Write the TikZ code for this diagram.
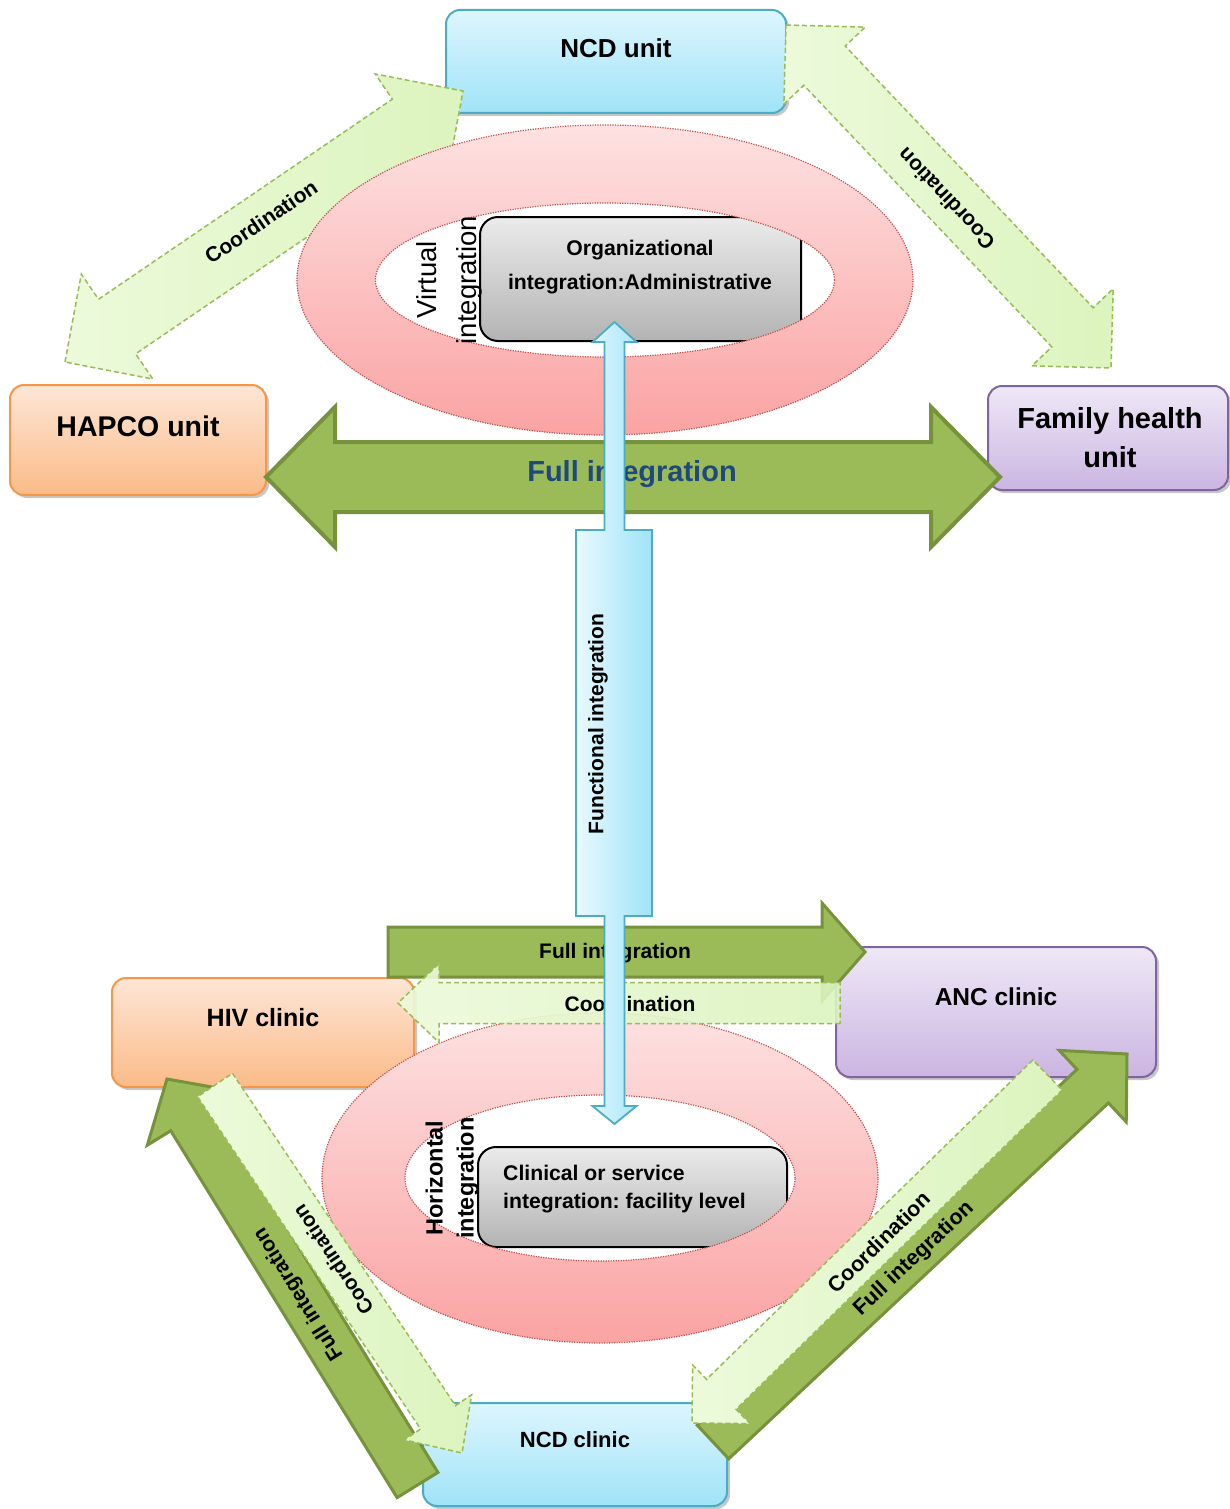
\documentclass[tikz,border=0pt]{standalone}
\usepackage{fontspec}
\setmainfont{Liberation Sans}
\usetikzlibrary{calc,shadows}
\frenchspacing

\definecolor{bBorder}{HTML}{4BACC6}
\definecolor{bTop}{HTML}{DDF6FD}
\definecolor{bBot}{HTML}{A0E3F8}
\definecolor{oBorder}{HTML}{F79646}
\definecolor{oTop}{HTML}{FDE6D6}
\definecolor{oBot}{HTML}{FBBB88}
\definecolor{pBorder}{HTML}{8064A2}
\definecolor{pTop}{HTML}{EEE8F6}
\definecolor{pBot}{HTML}{CBB5E2}
\definecolor{gTop}{HTML}{EBEBEB}
\definecolor{gBot}{HTML}{B3B3B3}
\definecolor{rTop}{HTML}{FDE1E1}
\definecolor{rBot}{HTML}{FBA3A3}
\definecolor{rBorder}{HTML}{C0504D}
\definecolor{fGreen}{HTML}{9BBB59}
\definecolor{fBorder}{HTML}{76923C}
\definecolor{cLight}{HTML}{DCF4BE}
\definecolor{cLight2}{HTML}{ECFADA}
\definecolor{navyText}{HTML}{1F497D}
\definecolor{faTop}{HTML}{E9F9FE}
\definecolor{faBot}{HTML}{9FE3F8}

\newcommand{\drawDblArrow}[6]{%
  \coordinate (tmpA) at ($(#2)!#6!(#3)$);
  \coordinate (tmpB) at ($(#3)!#6!(#2)$);
  \path[#1] (#2) -- ($(tmpA)!#5!90:(#3)$) -- ($(tmpA)!#4!90:(#3)$)
    -- ($(tmpB)!#4!-90:(#2)$) -- ($(tmpB)!#5!-90:(#2)$) -- (#3)
    -- ($(tmpB)!#5!90:(#2)$) -- ($(tmpB)!#4!90:(#2)$)
    -- ($(tmpA)!#4!-90:(#3)$) -- ($(tmpA)!#5!-90:(#3)$) -- cycle;
}
\newcommand{\drawSglArrow}[6]{%
  \coordinate (tmpB) at ($(#3)!#6!(#2)$);
  \path[#1] ($(#2)!#4!90:(#3)$) -- ($(tmpB)!#4!-90:(#2)$) -- ($(tmpB)!#5!-90:(#2)$)
    -- (#3) -- ($(tmpB)!#5!90:(#2)$) -- ($(tmpB)!#4!90:(#2)$)
    -- ($(#2)!#4!-90:(#3)$) -- cycle;
}

\tikzset{
  boxshadow/.style={drop shadow={shadow xshift=3pt, shadow yshift=-3pt, opacity=0.22, fill=black}},
  bluebox/.style={draw=bBorder, line width=2pt, rounded corners=14pt, top color=bTop, bottom color=bBot, inner sep=0pt, boxshadow},
  orangebox/.style={draw=oBorder, line width=2pt, rounded corners=14pt, top color=oTop, bottom color=oBot, inner sep=0pt, boxshadow},
  purplebox/.style={draw=pBorder, line width=2pt, rounded corners=14pt, top color=pTop, bottom color=pBot, inner sep=0pt, boxshadow},
  graybox/.style={draw=black, line width=2pt, rounded corners=18pt, top color=gTop, bottom color=gBot, inner sep=0pt},
  coordarrow/.style={draw=fGreen, line width=1.5pt, dash pattern=on 5pt off 3pt, left color=cLight2, right color=cLight},
  fullarrow/.style={draw=fBorder, line width=4pt, fill=fGreen},
  fullarrowthin/.style={draw=fBorder, line width=3pt, fill=fGreen},
  funcarrow/.style={draw=bBorder, line width=1.8pt, left color=faTop, right color=faBot},
  ringborder/.style={draw=rBorder, line width=1.2pt, dash pattern=on 1.2pt off 1.3pt},
  lbl/.style={inner sep=0pt, font=\bfseries},
}

\begin{document}
\begin{tikzpicture}[x=1pt,y=-1pt]
\useasboundingbox (0,0) rectangle (1230,1509);
\fill[white] (0,0) rectangle (1230,1509);

% ---------------- top level units ----------------
\node[bluebox, minimum width=340pt, minimum height=103pt] (ncdunit) at (616,61.5) {};
\node[orangebox, minimum width=256pt, minimum height=110pt] (hapco) at (138,440) {};
\node[purplebox, minimum width=240pt, minimum height=104pt] (family) at (1108,438) {};
\node[lbl, font=\fontsize{26}{30}\selectfont\bfseries] (ncdunitT) at (616,48) {NCD unit};
\node[lbl, font=\fontsize{28.5}{32}\selectfont\bfseries] (hapcoT) at (138,426) {HAPCO unit};
\node[lbl, align=center, font=\fontsize{29}{39}\selectfont\bfseries] (familyT) at (1110,438) {Family health\\unit};

% coordination arrows (top)
\coordinate (hapcoTip) at (65,362);
\coordinate (ncdTipL) at (463,91);
\drawDblArrow{coordarrow}{hapcoTip}{ncdTipL}{33pt}{63.5pt}{63pt}
\coordinate (ncdTipR) at (786,25);
\coordinate (famTip) at (1111,368);
\drawDblArrow{coordarrow}{ncdTipR}{famTip}{28.5pt}{56pt}{56pt}
\node[lbl, rotate=34.25, font=\fontsize{21}{24}\selectfont\bfseries] (coordTL) at (261,222) {Coordination};
\node[lbl, rotate=133.46, font=\fontsize{21}{24}\selectfont\bfseries] (coordTR) at (946,199) {Coordination};

% organizational box and ring
\node[graybox, minimum width=321pt, minimum height=124pt] (orgbox) at (640.5,279) {};
\shade[even odd rule, top color=rTop, bottom color=rBot]
  (605,280) ellipse [x radius=308pt, y radius=155pt]
  (605,280) ellipse [x radius=229.5pt, y radius=77pt];
\path[ringborder] (605,280) ellipse [x radius=308pt, y radius=155pt];
\path[ringborder] (605,280) ellipse [x radius=229.5pt, y radius=77pt];
\node[lbl, align=center, font=\fontsize{21.2}{34}\selectfont\bfseries] (orgT) at (640,267) {Organizational\\integration:Administrative};
\node[inner sep=0pt, rotate=90, align=center, font=\fontsize{27.5}{40}\selectfont] (virtT) at (449,280) {Virtual\\integration};

% full integration (top)
\coordinate (fiL) at (266,477);
\coordinate (fiR) at (1000,477);
\drawDblArrow{fullarrow}{fiL}{fiR}{35pt}{70pt}{69pt}
\node[lbl, text=navyText, font=\fontsize{29}{32}\selectfont\bfseries] (fiT) at (632,474) {Full integration};

% ---------------- facility level ----------------
\node[orangebox, minimum width=302pt, minimum height=109pt] (hiv) at (263,1032.5) {};
\node[purplebox, minimum width=320pt, minimum height=130pt] (anc) at (996,1012) {};
\node[bluebox, minimum width=304pt, minimum height=103pt] (ncdclinic) at (575,1454.5) {};
\node[lbl, font=\fontsize{25}{28}\selectfont\bfseries] (hivT) at (263,1018) {HIV clinic};
\node[lbl, font=\fontsize{24.5}{28}\selectfont\bfseries] (ancT) at (996,997) {ANC clinic};
\node[lbl, font=\fontsize{22}{26}\selectfont\bfseries] (ncdclinicT) at (575,1440) {NCD clinic};

% clinical box and ring
\node[graybox, minimum width=309pt, minimum height=100pt] (clinbox) at (632.5,1197) {};
\shade[even odd rule, top color=rTop, bottom color=rBot]
  (600,1178) ellipse [x radius=278pt, y radius=165pt]
  (600,1178) ellipse [x radius=195pt, y radius=83pt];
\path[ringborder] (600,1178) ellipse [x radius=278pt, y radius=165pt];
\path[ringborder] (600,1178) ellipse [x radius=195pt, y radius=83pt];
\node[lbl, anchor=west, align=left, font=\fontsize{21.2}{28}\selectfont\bfseries] (clinT) at (503,1189) {Clinical or service\\integration: facility level};
\node[lbl, rotate=90, align=center, font=\fontsize{23.5}{31}\selectfont\bfseries] (horT) at (452,1178) {Horizontal\\integration};

% horizontal arrows between HIV and ANC clinics
\coordinate (bfiTail) at (388,952);
\coordinate (bfiTip) at (865,952);
\drawSglArrow{fullarrowthin}{bfiTail}{bfiTip}{25pt}{49pt}{43pt}
\node[lbl, font=\fontsize{21}{24}\selectfont\bfseries] (bfiT) at (615,953) {Full integration};
\coordinate (bcTail) at (840,1003);
\coordinate (bcTip) at (398,1003);
\drawSglArrow{coordarrow, fill opacity=0.9}{bcTail}{bcTip}{20.5pt}{39.5pt}{41pt}
\node[lbl, font=\fontsize{21}{24}\selectfont\bfseries] (bcT) at (630,1004) {Coordination};

% HIV clinic -- NCD clinic
\coordinate (blfTail) at (417.5,1485);
\coordinate (blfTip) at (167,1079);
\drawSglArrow{fullarrowthin}{blfTail}{blfTip}{24pt}{51.5pt}{46pt}
\coordinate (blcTail) at (215,1085);
\coordinate (blcTip) at (462,1453);
\drawSglArrow{coordarrow}{blcTail}{blcTip}{21pt}{40.5pt}{43pt}
\node[lbl, rotate=121.7, font=\fontsize{21}{24}\selectfont\bfseries] (blfT) at (299,1294) {Full integration};
\node[lbl, rotate=123.9, font=\fontsize{20.5}{24}\selectfont\bfseries] (blcT) at (333,1260) {Coordination};

% ANC clinic -- NCD clinic
\coordinate (brfTail) at (713,1442);
\coordinate (brfTip) at (1127,1054);
\drawSglArrow{fullarrowthin}{brfTail}{brfTip}{23pt}{49pt}{47pt}
\coordinate (brcTail) at (1047.5,1075);
\coordinate (brcTip) at (692,1423);
\drawSglArrow{coordarrow}{brcTail}{brcTip}{21pt}{41pt}{41pt}
\node[lbl, rotate=43.14, font=\fontsize{21.5}{24}\selectfont\bfseries] (brfT) at (914,1259) {Full integration};
\node[lbl, rotate=44.39, font=\fontsize{21.5}{24}\selectfont\bfseries] (brcT) at (879,1242) {Coordination};

% functional integration (vertical double arrow callout)
\coordinate (faTop) at (614.5,322);
\coordinate (faBot) at (614.5,1124);
\path[funcarrow] (faTop) -- (636.5,342) -- (624.5,342) -- (624.5,530) -- (652,530) -- (652,916)
  -- (624.5,916) -- (624.5,1106) -- (636.5,1106) -- (faBot) -- (592.5,1106) -- (604.5,1106)
  -- (604.5,916) -- (576,916) -- (576,530) -- (604.5,530) -- (604.5,342) -- (592.5,342) -- cycle;
\node[lbl, rotate=90, font=\fontsize{21}{24}\selectfont\bfseries] (faT) at (598,724) {Functional integration};

\end{tikzpicture}
\end{document}
